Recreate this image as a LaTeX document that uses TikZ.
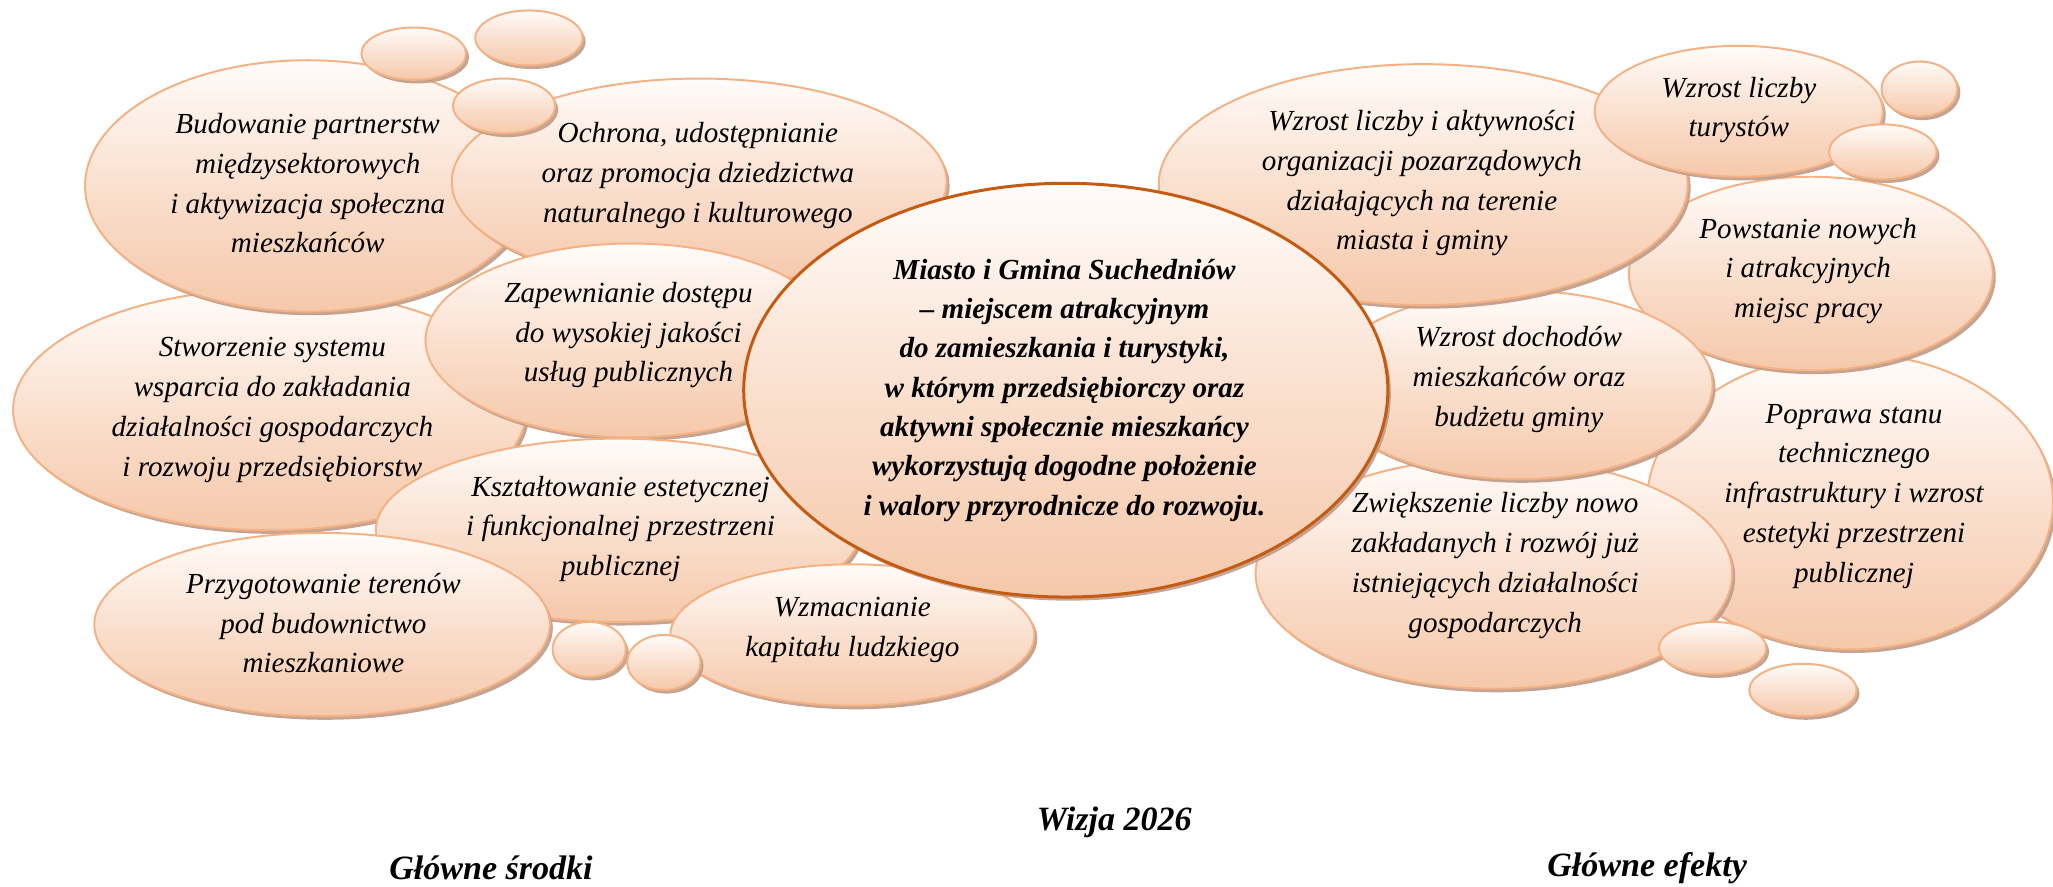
\documentclass[tikz,border=0pt]{standalone}
\usepackage{fontspec}
\setmainfont{Liberation Serif}
\usetikzlibrary{shapes.geometric, shadows}

\definecolor{bubbleline}{RGB}{244,177,131}
\definecolor{visionline}{RGB}{197,90,17}
\definecolor{peachtop}{RGB}{255,252,250}
\definecolor{peachmid}{RGB}{250,224,207}
\definecolor{peachbot}{RGB}{245,200,170}
\definecolor{shadowc}{RGB}{190,155,135}

\begin{document}
\begin{tikzpicture}
    [x=0.2mm, y=-0.2mm,
    bubble/.style 2 args={ellipse, draw=bubbleline, line width=0.85pt,
        top color=peachtop, bottom color=peachbot, middle color=peachmid,
        drop shadow={shadow xshift=0.45mm, shadow yshift=-0.55mm, fill=shadowc, opacity=0.9},
        inner sep=0pt, minimum width=#1*0.4mm, minimum height=#2*0.4mm},
    visionnode/.style={bubble={246}{158}, draw=visionline, line width=1.3pt},
    bubbletext/.style={align=center, inner sep=0pt, font=\itshape\fontsize{12.65}{17.3}\selectfont},
    visiontext/.style={bubbletext, font=\bfseries\itshape\fontsize{12.65}{17.1}\selectfont},
    headtext/.style={inner sep=0pt, font=\bfseries\itshape\fontsize{14.8}{18}\selectfont},]

    \useasboundingbox (0,0) rectangle (1568,677);

    %Means
    \node[bubble={196}{92}](stworzenie) at (206,313) {};
    \node[bubble={170}{96}](budowanie) at (235,142) {};
    \node[bubble={189}{79}](ochrona) at (534,139) {};
    \node[bubble={157}{74}](zapewnianie) at (482,260) {};
    \node[bubble={185}{70}](ksztaltowanie) at (472,405) {};
    \node[bubble={174}{70}](przygotowanie) at (246,477) {};
    \node[bubble={139}{54}](wzmacnianie) at (651,485) {};
    \node[bubble={40}{20}](cloudA) at (316,41) {};
    \node[bubble={41}{21}](cloudB) at (404,29) {};
    \node[bubble={39}{21}](cloudC) at (385,81) {};
    \node[bubble={28}{21}](cloudD) at (450,496) {};
    \node[bubble={28}{21}](cloudE) at (507,506) {};

    %Effects
    \node[bubble={155}{113}](poprawa) at (1413,383) {};
    \node[bubble={139}{74}](powstanie) at (1383,209) {};
    \node[bubble={182}{88}](zwiekszenie) at (1141,438) {};
    \node[bubble={148}{72}](dochody) at (1160,294) {};
    \node[bubble={202}{92}](aktywnosc) at (1087,141) {};
    \node[bubble={110}{50}](turysci) at (1328,85) {};
    \node[bubble={29}{21}](cloudF) at (1466,68) {};
    \node[bubble={41}{21}](cloudG) at (1438,116) {};
    \node[bubble={41}{20}](cloudH) at (1308,495) {};
    \node[bubble={41}{20}](cloudI) at (1377,527) {};

    %Vision
    \node[visionnode](wizja) at (814,298) {};

    %Labels
    \node[bubbletext](stworzenietext) at (208,313) {Stworzenie systemu\\wsparcia do zakładania\\działalności gospodarczych\\i rozwoju przedsiębiorstw};
    \node[bubbletext](budowanietext) at (235,140) {Budowanie partnerstw\\międzysektorowych\\i aktywizacja społeczna\\mieszkańców};
    \node[bubbletext](ochronatext) at (533,134) {Ochrona, udostępnianie\\oraz promocja dziedzictwa\\naturalnego i kulturowego};
    \node[bubbletext](zapewnianietext) at (480,256) {Zapewnianie dostępu\\do wysokiej jakości\\usług publicznych};
    \node[bubbletext](ksztaltowanietext) at (474,404) {Kształtowanie estetycznej\\i funkcjonalnej przestrzeni\\publicznej};
    \node[bubbletext](przygotowanietext) at (247,476) {Przygotowanie terenów\\pod budownictwo\\mieszkaniowe};
    \node[bubbletext](wzmacnianietext) at (651,481) {Wzmacnianie\\kapitału ludzkiego};

    \node[bubbletext](aktywnosctext) at (1086,140) {Wzrost liczby i aktywności\\organizacji pozarządowych\\działających na terenie\\miasta i gminy};
    \node[bubbletext](turyscitext) at (1328,84) {Wzrost liczby\\turystów};
    \node[bubbletext](powstanietext) at (1381,207) {Powstanie nowych\\i atrakcyjnych\\miejsc pracy};
    \node[bubbletext](dochodytext) at (1160,290) {Wzrost dochodów\\mieszkańców oraz\\budżetu gminy};
    \node[bubbletext](zwiekszenietext) at (1142,432) {Zwiększenie liczby nowo\\zakładanych i rozwój już\\istniejących działalności\\gospodarczych};
    \node[bubbletext](poprawatext) at (1416,379) {Poprawa stanu\\technicznego\\infrastruktury i wzrost\\estetyki przestrzeni\\publicznej};

    \node[visiontext](wizjatext) at (813,298) {Miasto i Gmina Suchedniów\\– miejscem atrakcyjnym\\do zamieszkania i turystyki,\\w którym przedsiębiorczy oraz\\aktywni społecznie mieszkańcy\\wykorzystują dogodne położenie\\i walory przyrodnicze do rozwoju.};

    %Headings
    \node[headtext](wizjahead) at (851,628) {Wizja 2026};
    \node[headtext](srodkihead) at (375,663) {Główne środki};
    \node[headtext](efektyhead) at (1258,663) {Główne efekty};

\end{tikzpicture}
\end{document}
